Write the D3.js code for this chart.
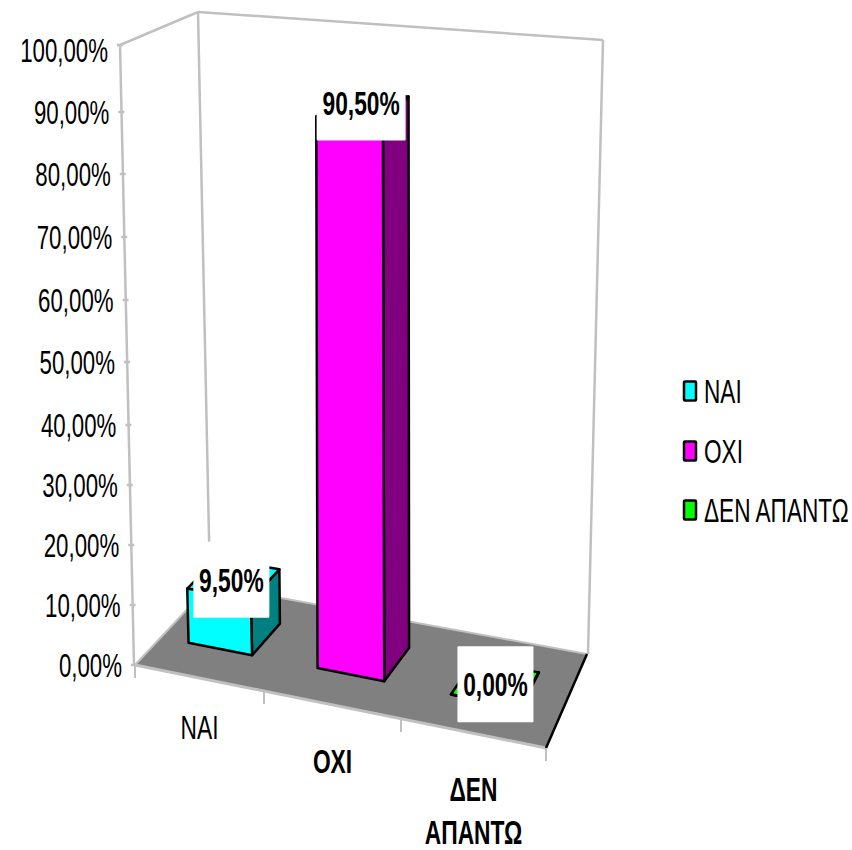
<!DOCTYPE html>
<html><head><meta charset="utf-8">
<style>html,body{margin:0;padding:0;background:#fff}svg{display:block}text{font-family:"Liberation Sans",Arial,sans-serif;fill:#000}</style>
<script src="https://cdn.jsdelivr.net/npm/d3@7/dist/d3.min.js"></script></head><body><svg id="c" width="852" height="850"></svg>
<script>
const categories = ["ΝΑΙ", "ΟΧΙ", "ΔΕΝ ΑΠΑΝΤΩ"];
const values = [9.5, 90.5, 0];
const valueLabels = ["9,50%", "90,50%", "0,00%"];
const fills = ["#00ffff", "#ff00ff", "#00ff00"];
const sides = ["#008080", "#800080", "#008000"];
const tickValues = [0,10,20,30,40,50,60,70,80,90,100];
const tickLabels = ["0,00%","10,00%","20,00%","30,00%","40,00%","50,00%","60,00%","70,00%","80,00%","90,00%","100,00%"];
const categoryLines = [["ΝΑΙ"],["ΟΧΙ"],["ΔΕΝ","ΑΠΑΝΤΩ"]];
const categoryBold = [false,true,true];

const svg = d3.select("#c");
const yScale = d3.scaleLinear().domain(tickValues).range([665,605,545,485,425,362,300,237,174,112,45]);
const axisX = d3.scaleLinear().domain([0,100]).range([134,120]);
const U=[0,1,2,3];
const fx=d3.scaleLinear().domain(U).range([135,264,401,546]), fy=d3.scaleLinear().domain(U).range([665,691,719,748]);
const bx=d3.scaleLinear().domain(U).range([210,335,463,587]), by=d3.scaleLinear().domain(U).range([585,608,631,654]);
const floorPt=(u,v)=>[fx(u)+(bx(u)-fx(u))*v, fy(u)+(by(u)-fy(u))*v];
const persp=d3.scaleLinear().domain([0,3]).range([0.96,1.08]);
const heightAt=(val,u,v)=>(665-yScale(val))*(1-0.05*v)*persp(u);
const pts=a=>a.map(p=>p.join(",")).join(" ");
const WALL="#c0c0c0";
const line=(a,b,c=WALL,w=2.5)=>svg.append("line").attr("x1",a[0]).attr("y1",a[1]).attr("x2",b[0]).attr("y2",b[1]).attr("stroke",c).attr("stroke-width",w);
const label=(s,x,y,size,sx,anchor,bold)=>svg.append("text").attr("transform",`translate(${x},${y}) scale(${sx},1)`).attr("text-anchor",anchor).attr("font-size",size).attr("font-weight",bold?"bold":"normal").text(s);

const TL=[120,45],BLW=[134,665],TB=[198,12],TR=[603,40],BRB=[588,654];
line(TL,BLW); line(TL,TB); line(TB,TR); line(TR,BRB); line(TB,floorPt(0,1));
svg.append("polygon").attr("points",pts([floorPt(0,0),floorPt(3,0),floorPt(3,1),floorPt(0,1)])).attr("fill","#808080");
line(floorPt(0,1),floorPt(3,1),WALL,2);
line(floorPt(0,0),floorPt(3,0),WALL,3);
line(floorPt(0,0),floorPt(0,1),WALL,2);
line(floorPt(3,0),floorPt(3,1),"#000",2.5);
tickValues.forEach((t,i)=>{
  const x=axisX(t),y=yScale(t);
  line([x-3,y],[x+3,y]);
  label(tickLabels[i],x-12,y+12+(t==100?5:0),34,0.655,"end",false);
});
U.forEach(u=>line([fx(u),fy(u)],[fx(u),fy(u)+13],WALL,2));
const u1=0.217,u2=0.715,v1=0.345,v2=0.73;
values.forEach((val,i)=>{
  const P=(u,v,top)=>{const p=floorPt(i+u,v);return top?[p[0]-(1-v)*2,p[1]-heightAt(val,i+u,v)]:p;};
  const g=svg.append("g").attr("stroke","#000").attr("stroke-width",2.5).attr("stroke-linejoin","round");
  g.append("polygon").attr("points",pts([P(u2,v1,0),P(u2,v2,0),P(u2,v2,1),P(u2,v1,1)])).attr("fill",sides[i]);
  g.append("polygon").attr("points",pts([P(u1,v1,1),P(u2,v1,1),P(u2,v2,1),P(u1,v2,1)])).attr("fill",fills[i]);
  g.append("polygon").attr("points",pts([P(u1,v1,0),P(u2,v1,0),P(u2,v1,1),P(u1,v1,1)])).attr("fill",fills[i]);
});
const boxDx=[-2.5,-2,-0.5], boxDy=[1,-4,1];
values.forEach((val,i)=>{
  const c=floorPt(i+0.46,0.54), cx=c[0]+boxDx[i], cy=c[1]-heightAt(val,i+0.46,0.54)+boxDy[i], w=i==1?89:76;
  svg.append("rect").attr("x",cx-w/2).attr("y",cy-38).attr("width",w).attr("height",76).attr("rx",1).attr("fill","#fff");
  label(valueLabels[i],cx,cy+12,34,0.67,"middle",true);
});
const labelOffset=d3.scaleLinear().domain([0,1,2]).range([61,68,67]);
categoryLines.forEach((ls,i)=>{
  ls.forEach((s,j)=>label(s,fx(i+0.5),fy(i+0.5)+labelOffset(i)+j*43,34,0.67,"middle",categoryBold[i]));
});
const legendY=d3.scaleLinear().domain([0,1,2]).range([391,451,510]);
categories.forEach((s,i)=>{
  svg.append("rect").attr("x",684).attr("y",legendY(i)-9.5).attr("width",12).attr("height",19).attr("rx",1).attr("fill",fills[i]).attr("stroke","#000").attr("stroke-width",2.5);
  label(s,704,legendY(i)+12,34,0.665,"start",false);
});
</script></body></html>
